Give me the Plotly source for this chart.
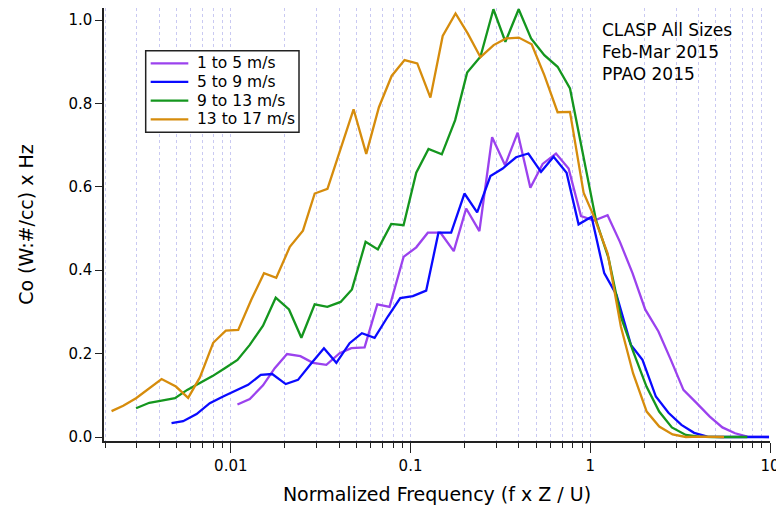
import plotly.graph_objects as go

# ---- data ----
freq_1_5 = [0.01089, 0.01275, 0.01511, 0.01756, 0.02055, 0.02439, 0.02865, 0.03401, 0.04032, 0.04684,
            0.05551, 0.06531, 0.07642, 0.09145, 0.1076, 0.1248, 0.1468, 0.1740, 0.2039, 0.2416,
            0.2844, 0.3358, 0.3945, 0.4642, 0.5433, 0.6448, 0.7576, 0.8878, 1.052, 1.248,
            1.462, 1.718, 2.021, 2.395, 2.808, 3.299, 3.896, 4.624, 5.433, 6.393,
            7.479, 8.687, 9.875]
co_1_5 = [0.078, 0.091, 0.124, 0.165, 0.199, 0.194, 0.178, 0.173, 0.201, 0.213,
          0.215, 0.318, 0.312, 0.432, 0.455, 0.490, 0.490, 0.446, 0.548, 0.494,
          0.719, 0.652, 0.730, 0.598, 0.655, 0.680, 0.644, 0.530, 0.519, 0.532,
          0.468, 0.393, 0.306, 0.253, 0.185, 0.113, 0.082, 0.049, 0.023, 0.009,
          0.001, 0.0, 0.0]

freq_5_9 = [0.00468, 0.00543, 0.00645, 0.00764, 0.00906, 0.01076, 0.01248, 0.01468, 0.0170, 0.02021,
            0.02365, 0.02807, 0.03298, 0.03866, 0.04582, 0.05363, 0.0631, 0.07478, 0.08766, 0.1030,
            0.1222, 0.1430, 0.1683, 0.1995, 0.2348, 0.2783, 0.3257, 0.3865, 0.4524, 0.5322,
            0.6253, 0.7384, 0.8610, 1.017, 1.196, 1.400, 1.683, 1.952, 2.317, 2.723,
            3.215, 3.783, 4.485, 5.322, 6.229, 7.328, 8.577, 9.875]
co_5_9 = [0.033, 0.038, 0.055, 0.081, 0.097, 0.113, 0.125, 0.149, 0.151, 0.127,
          0.137, 0.177, 0.213, 0.178, 0.225, 0.249, 0.238, 0.289, 0.333, 0.338,
          0.351, 0.490, 0.490, 0.584, 0.539, 0.626, 0.644, 0.671, 0.680, 0.636,
          0.672, 0.634, 0.510, 0.528, 0.393, 0.341, 0.221, 0.185, 0.097, 0.058,
          0.029, 0.010, 0.001, 0.0, 0.0, 0.0, 0.0, 0.0]

freq_9_13 = [0.00297, 0.00352, 0.00412, 0.00489, 0.00572, 0.00673, 0.00791, 0.00926, 0.01089, 0.01275,
             0.01511, 0.01778, 0.02108, 0.0247, 0.02929, 0.03445, 0.04084, 0.0472, 0.05623, 0.0658,
             0.07811, 0.09145, 0.1076, 0.1259, 0.1493, 0.1771, 0.2065, 0.2448, 0.2891, 0.3371,
             0.3996, 0.4684, 0.5551, 0.6579, 0.7713, 0.9063, 1.076, 1.264, 1.481, 1.734,
             2.055, 2.417, 2.844, 3.401, 4.033, 4.779, 5.552, 6.449, 7.479]
co_9_13 = [0.069, 0.082, 0.087, 0.093, 0.113, 0.130, 0.146, 0.165, 0.185, 0.221,
           0.267, 0.334, 0.306, 0.238, 0.318, 0.312, 0.324, 0.354, 0.468, 0.450,
           0.511, 0.508, 0.634, 0.691, 0.678, 0.760, 0.874, 0.912, 1.026, 0.948,
           1.026, 0.956, 0.916, 0.888, 0.836, 0.683, 0.520, 0.429, 0.288, 0.205,
           0.121, 0.061, 0.023, 0.005, 0.001, 0.0, 0.0, 0.0, 0.0]

freq_13_17 = [0.00217, 0.00252, 0.00297, 0.0035, 0.00412, 0.00495, 0.00579, 0.00673, 0.00798, 0.00938,
              0.0110, 0.0130, 0.0153, 0.0179, 0.0213, 0.0252, 0.0293, 0.0345, 0.0408, 0.0482,
              0.0567, 0.0667, 0.0785, 0.0926, 0.109, 0.129, 0.151, 0.178, 0.208, 0.245,
              0.290, 0.340, 0.400, 0.472, 0.555, 0.658, 0.771, 0.918, 1.05, 1.25,
              1.48, 1.73, 2.06, 2.42, 2.87, 3.40, 4.03, 4.78, 5.55]
co_13_17 = [0.062, 0.075, 0.093, 0.115, 0.139, 0.121, 0.094, 0.143, 0.226, 0.255,
            0.257, 0.329, 0.393, 0.382, 0.456, 0.495, 0.584, 0.595, 0.692, 0.786,
            0.679, 0.791, 0.866, 0.904, 0.896, 0.814, 0.962, 1.016, 0.968, 0.911,
            0.940, 0.956, 0.958, 0.942, 0.868, 0.779, 0.780, 0.586, 0.528, 0.440,
            0.265, 0.153, 0.061, 0.025, 0.006, 0.0, 0.001, 0.0, 0.0]

series_names = ["1 to 5 m/s", "5 to 9 m/s", "9 to 13 m/s", "13 to 17 m/s"]
series_colors = ["#9B42EE", "#0A0AFF", "#14961E", "#D68C0C"]

x_tickvals = [0.01, 0.1, 1, 10]
x_ticktext = ["0.01", "0.1", "1", "10"]
x_minor_vals = [m * d for d in (0.001, 0.01, 0.1, 1) for m in range(2, 10)]
y_tickvals = [0.0, 0.2, 0.4, 0.6, 0.8, 1.0]
y_ticktext = ["0.0", "0.2", "0.4", "0.6", "0.8", "1.0"]

note_lines = ["CLASP All Sizes", "Feb-Mar 2015", "PPAO 2015"]

FONT = "DejaVu Sans"

fig = go.Figure()
for xs, ys, name, color in zip([freq_1_5, freq_5_9, freq_9_13, freq_13_17],
                               [co_1_5, co_5_9, co_9_13, co_13_17],
                               series_names, series_colors):
    fig.add_trace(go.Scatter(x=xs, y=ys, mode="lines", name=name,
                             line=dict(color=color, width=2.3)))

grid_color = "#c9c9f2"
# page body has an 8px margin: the figure is sized so it fills the 784x508 window
fig.update_layout(
    width=776, height=500,
    margin=dict(l=96, r=14, t=0, b=67),
    paper_bgcolor="white", plot_bgcolor="white",
    font=dict(family=FONT, size=15, color="black"),
    showlegend=False,
    xaxis=dict(type="log", range=[-2.7055, 1.0],
               tickvals=x_tickvals, ticktext=x_ticktext,
               ticks="outside", ticklen=10, tickwidth=1.2, tickcolor="#222",
               showline=True, linecolor="#222", linewidth=1.5,
               showgrid=True, gridcolor=grid_color, griddash="dot", gridwidth=1,
               zeroline=False,
               minor=dict(tickmode="array", tickvals=x_minor_vals, ticks="outside",
                          ticklen=5, tickwidth=1.2, tickcolor="#222",
                          showgrid=True, gridcolor=grid_color, griddash="dot", gridwidth=1),
               tickfont=dict(size=15),
               title=dict(text="Normalized Frequency (f x Z / U)", font=dict(size=19), standoff=14)),
    yaxis=dict(range=[-0.0096, 1.029],
               tickvals=y_tickvals, ticktext=y_ticktext,
               ticks="outside", ticklen=7, tickwidth=1.2, tickcolor="#222",
               showline=True, linecolor="#222", linewidth=1.5,
               showgrid=False, zeroline=False,
               tickfont=dict(size=15),
               title=dict(text="Co (W:#/cc) x Hz", font=dict(size=19), standoff=30)),
)

# legend box drawn in paper coordinates
leg_x0, leg_x1, leg_y0, leg_y1 = 0.0626, 0.2928, 0.7129, 0.9014
leg_line_x0, leg_line_x1, leg_text_x = 0.0701, 0.1266, 0.1370
leg_row_top, leg_row_step = 0.8723, 0.0431
fig.add_shape(type="rect", xref="paper", yref="paper",
              x0=leg_x0, x1=leg_x1, y0=leg_y0, y1=leg_y1,
              line=dict(color="#222", width=1.5), fillcolor="white", layer="above")
for i, (name, color) in enumerate(zip(series_names, series_colors)):
    yy = leg_row_top - i * leg_row_step
    fig.add_shape(type="line", xref="paper", yref="paper",
                  x0=leg_line_x0, x1=leg_line_x1, y0=yy, y1=yy,
                  line=dict(color=color, width=2.3), layer="above")
    fig.add_annotation(xref="paper", yref="paper", x=leg_text_x, y=yy,
                       xanchor="left", yanchor="middle", showarrow=False,
                       text=name, font=dict(size=15.5, family=FONT))

fig.add_annotation(xref="paper", yref="paper", x=0.745, y=0.977,
                   xanchor="left", yanchor="top", align="left", showarrow=False,
                   text="<br>".join(note_lines), font=dict(size=17, family=FONT))

fig.write_html("out.html")
